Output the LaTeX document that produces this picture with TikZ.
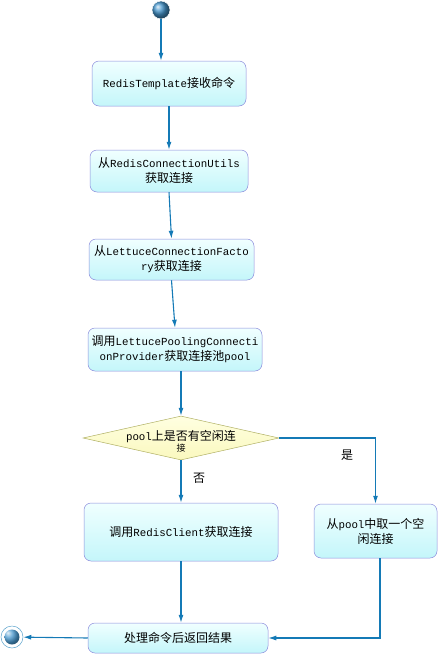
\documentclass[tikz,border=0pt]{standalone}
\usepackage{fontspec}
\setmainfont{Noto Sans CJK SC}
\setmonofont{Liberation Mono}[Scale=0.9]
\usetikzlibrary{arrows.meta,positioning,calc,shapes.geometric}
\definecolor{flowblue}{RGB}{20,122,182}
\definecolor{boxedge}{RGB}{140,140,220}
\definecolor{boxtop}{RGB}{240,255,255}
\definecolor{boxbot}{RGB}{196,246,250}
\definecolor{decedge}{RGB}{176,176,100}
\definecolor{dectop}{RGB}{255,255,225}
\definecolor{decbot}{RGB}{250,248,190}
\definecolor{ballblue}{RGB}{70,150,205}
\tikzset{
    >={Latex[length=8pt,width=5pt]},
    every picture/.style={line width=0.5pt},
    actbox/.style={rectangle,rounded corners=7pt,draw=boxedge,top color=boxtop,bottom color=boxbot,
        align=center,inner sep=2pt,font=\fontsize{12}{15}\selectfont},
    decision/.style={diamond,draw=decedge,top color=dectop,bottom color=decbot,inner sep=0pt},
    startdot/.style={circle,minimum size=18pt,inner sep=0pt,ball color=ballblue,draw=white},
    enddot/.style={circle,minimum size=22pt,inner sep=0pt,draw=flowblue!70,fill=white,
        path picture={\shade[ball color=ballblue] (path picture bounding box.center) circle (7.5pt);}},
    flow/.style={draw=flowblue,line width=1.1pt,->},
    guard/.style={font=\fontsize{12}{15}\selectfont}
}
\begin{document}
\begin{tikzpicture}[x=1pt,y=-1pt]
    \useasboundingbox (0,0) rectangle (439,656);
    \node[startdot] (start) at (161,10) {};
    \node[actbox,minimum width=154pt,minimum height=45pt] (recv) at (169,83.5) {\texttt{RedisTemplate}接收命令};
    \node[actbox,minimum width=158pt,minimum height=42pt] (utils) at (169,171) {从\texttt{RedisConnectionUtils}\\获取连接};
    \node[actbox,minimum width=165pt,minimum height=41pt] (factory) at (171.5,259.5) {从\texttt{LettuceConnectionFacto}\\\texttt{ry}获取连接};
    \node[actbox,minimum width=174pt,minimum height=43pt] (provider) at (175,349.5) {调用\texttt{LettucePoolingConnecti}\\\texttt{onProvider}获取连接池\texttt{pool}};
    \node[decision,minimum width=196pt,minimum height=44pt] (idle) at (181,438) {};
    \node[align=center,font=\fontsize{12}{9}\selectfont] (idleq) at (181,441) {\texttt{pool}上是否有空闲连\\{\fontsize{9}{9}\selectfont 接}};
    \node[actbox,minimum width=194pt,minimum height=58pt] (client) at (181,532) {调用\texttt{RedisClient}获取连接};
    \node[actbox,minimum width=123pt,minimum height=54pt] (take) at (375.5,531) {从\texttt{pool}中取一个空\\闲连接};
    \node[actbox,minimum width=180pt,minimum height=30pt] (result) at (178,638) {处理命令后返回结果};
    \node[enddot] (stop) at (12,637) {};
    \node[guard] (no) at (199,478) {否};
    \node[guard] (yes) at (347,455) {是};

    \draw[flow] (start) -- (start |- recv.north);
    \draw[flow] (recv.south) -- (utils.north);
    \draw[flow] (utils.south) -- (factory.north);
    \draw[flow] (factory.south) -- (provider.north);
    \draw[flow] (idle.north |- provider.south) -- (idle.north);
    \draw[flow] (idle.south) -- (client.north);
    \draw[flow] (idle.east) -| (take.north);
    \draw[flow] (client.south) -- (client.south |- result.north);
    \draw[flow] ([xshift=4.5pt]take.south) |- (result.east);
    \draw[flow] (result.west) -- (stop);
\end{tikzpicture}
\end{document}
